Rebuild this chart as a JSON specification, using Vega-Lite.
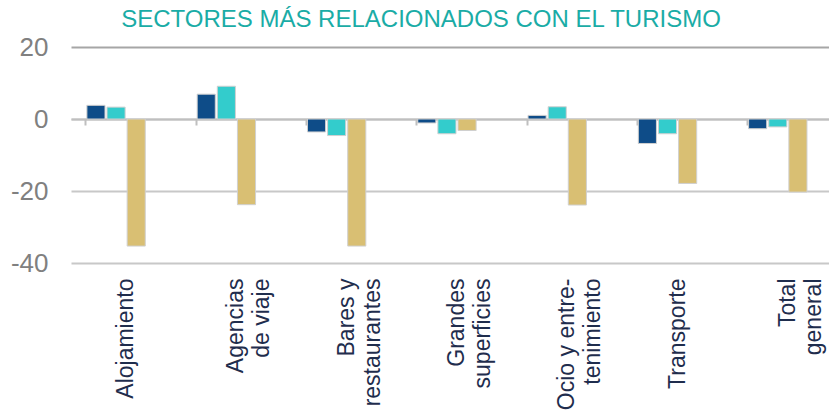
{
  "$schema": "https://vega.github.io/schema/vega-lite/v6.json",
  "width": 758,
  "height": 216,
  "autosize": {"type": "none"},
  "padding": {"left": 71, "top": 47, "right": 0, "bottom": 151},
  "background": "white",
  "title": {
    "text": "SECTORES MÁS RELACIONADOS CON EL TURISMO",
    "font": "Liberation Sans",
    "fontSize": 24,
    "fontWeight": "normal",
    "color": "#1aaca6",
    "anchor": "middle",
    "dx": -29,
    "offset": 2
  },
  "config": {"view": {"stroke": null}},
  "data": {
    "values": [
      {"sector": "Alojamiento", "serie": "Serie 1", "valor": 3.8},
      {"sector": "Alojamiento", "serie": "Serie 2", "valor": 3.3},
      {"sector": "Alojamiento", "serie": "Serie 3", "valor": -35.3},
      {"sector": "Agencias\nde viaje", "serie": "Serie 1", "valor": 6.9},
      {"sector": "Agencias\nde viaje", "serie": "Serie 2", "valor": 9.1},
      {"sector": "Agencias\nde viaje", "serie": "Serie 3", "valor": -23.8},
      {"sector": "Bares y\nrestaurantes", "serie": "Serie 1", "valor": -3.6},
      {"sector": "Bares y\nrestaurantes", "serie": "Serie 2", "valor": -4.6},
      {"sector": "Bares y\nrestaurantes", "serie": "Serie 3", "valor": -35.3},
      {"sector": "Grandes\nsuperficies", "serie": "Serie 1", "valor": -1.1},
      {"sector": "Grandes\nsuperficies", "serie": "Serie 2", "valor": -4.1},
      {"sector": "Grandes\nsuperficies", "serie": "Serie 3", "valor": -3.2},
      {"sector": "Ocio y entre-\ntenimiento", "serie": "Serie 1", "valor": 1.0},
      {"sector": "Ocio y entre-\ntenimiento", "serie": "Serie 2", "valor": 3.4},
      {"sector": "Ocio y entre-\ntenimiento", "serie": "Serie 3", "valor": -23.9},
      {"sector": "Transporte", "serie": "Serie 1", "valor": -6.8},
      {"sector": "Transporte", "serie": "Serie 2", "valor": -4.1},
      {"sector": "Transporte", "serie": "Serie 3", "valor": -17.9},
      {"sector": "Total\ngeneral", "serie": "Serie 1", "valor": -2.7},
      {"sector": "Total\ngeneral", "serie": "Serie 2", "valor": -2.2},
      {"sector": "Total\ngeneral", "serie": "Serie 3", "valor": -20.3}
    ]
  },
  "mark": {"type": "bar", "stroke": "#d0d0d0", "strokeWidth": 1},
  "encoding": {
    "x": {
      "field": "sector",
      "type": "nominal",
      "sort": null,
      "scale": {"range": [0, 772], "paddingInner": 0.27, "paddingOuter": 0.135},
      "axis": {
        "title": null,
        "offset": -144,
        "bandPosition": 0,
        "domainColor": "#bfbfbf",
        "domainWidth": 2,
        "ticks": true,
        "tickColor": "#bfbfbf",
        "tickWidth": 2,
        "tickSize": 6,
        "labelAngle": 270,
        "labelAlign": "right",
        "labelBaseline": "middle",
        "labelFont": "Liberation Sans",
        "labelFontSize": 23,
        "labelColor": "#1f2d4d",
        "labelLineHeight": 26,
        "labelPadding": 153,
        "labelExpr": "split(datum.label, '\\n')",
        "labelBound": false,
        "labelOverlap": false,
        "grid": false
      }
    },
    "xOffset": {
      "field": "serie",
      "type": "nominal",
      "scale": {"domain": ["Serie 1", "Serie 2", "Serie 3", "Serie 4"], "paddingInner": 0.1, "paddingOuter": 0.05}
    },
    "y": {
      "field": "valor",
      "type": "quantitative",
      "scale": {"domain": [-40, 20], "nice": false, "zero": false},
      "axis": {
        "title": null,
        "values": [-40, -20, 0, 20],
        "labelExpr": "toString(datum.value)",
        "grid": true,
        "gridColor": {"condition": {"test": "datum.value === 20", "value": "#a6a6a6"}, "value": "#c8c8c8"},
        "gridWidth": 2,
        "domain": false,
        "ticks": false,
        "labelFont": "Liberation Sans",
        "labelFontSize": 26,
        "labelColor": "#808080",
        "labelPadding": 23
      }
    },
    "color": {
      "field": "serie",
      "type": "nominal",
      "scale": {"domain": ["Serie 1", "Serie 2", "Serie 3", "Serie 4"], "range": ["#0e4c88", "#33cccc", "#d9bf73", "#999999"]},
      "legend": null
    }
  }
}
